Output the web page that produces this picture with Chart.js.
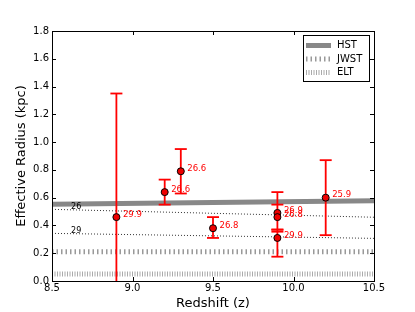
<!DOCTYPE html>
<html>
<head>
<meta charset="utf-8">
<script src="https://cdn.jsdelivr.net/npm/chart.js@4.4.0/dist/chart.umd.min.js"></script>
<style>
html,body{margin:0;padding:0;background:#fff;}
#wrap{width:415px;height:312px;}
</style>
</head>
<body>
<div id="wrap"><canvas id="chart"></canvas></div>
<script>
// ─── Galaxies: redshift, effective radius, error bar ends, magnitude label ───
const zVals   =[8.9 ,9.2 ,9.3 ,9.5 ,9.9 ,9.9  ,9.9  ,10.2];
const reVals  =[0.46,0.64,0.79,0.38,0.49,0.46 ,0.31 ,0.60];
const errHi   =[1.35,0.73,0.95,0.46,0.55,0.64 ,0.37 ,0.87];
const errLo   =[-0.3,0.55,0.63,0.31,0.37,0.355,0.175,0.33];
const magLbls =['29.9','26.6','26.6','26.8','26.9','26.8','29.9','25.9'];

// ─── Resolution limits (value at z=8.5 and z=10.5) ───
const zRange  =[8.5,10.5];
const hstRe   =[0.552,0.578];
const jwstRe  =[0.21,0.21];
const eltRe   =[0.05,0.05];
const mag26Re =[0.516,0.459];
const mag29Re =[0.343,0.307];
const magLineLbls=['26','29'];
const magLineLblZ=8.65;

// ─── Axes ───
const xMin=8.5, xMax=10.5, xStep=0.5;
const yMin=0,   yMax=1.8,  yStep=0.2;

Chart.defaults.font.family="'DejaVu Sans', sans-serif";
Chart.defaults.color='#000';

const seg=(vals)=>zRange.map((z,i)=>({x:z,y:vals[i]}));
const errData=[];
zVals.forEach((z,i)=>{errData.push({x:z,y:errLo[i]},{x:z,y:errHi[i]},{x:z,y:null});});

// ─── Plugins ───
const frameTicks={
    id:'frameTicks',
    afterDatasetsDraw(chart){
        const {ctx,chartArea:a,scales:{x,y}}=chart;
        ctx.save();
        ctx.strokeStyle='#000';ctx.lineWidth=1;
        ctx.beginPath();
        x.ticks.forEach(t=>{
            const p=Math.round(x.getPixelForValue(t.value))+0.5;
            ctx.moveTo(p,a.bottom);ctx.lineTo(p,a.bottom-4);
            ctx.moveTo(p,a.top);ctx.lineTo(p,a.top+4);
        });
        y.ticks.forEach(t=>{
            const p=Math.round(y.getPixelForValue(t.value))+0.5;
            ctx.moveTo(a.left,p);ctx.lineTo(a.left+4,p);
            ctx.moveTo(a.right,p);ctx.lineTo(a.right-4,p);
        });
        ctx.stroke();
        ctx.strokeRect(a.left+0.5,a.top+0.5,a.right-a.left,a.bottom-a.top);
        ctx.restore();
    }
};

const textLabels={
    id:'textLabels',
    afterDatasetsDraw(chart){
        const {ctx,scales:{x,y}}=chart;
        ctx.save();
        ctx.font="8.5px 'DejaVu Sans', sans-serif";
        // magnitude next to each galaxy
        ctx.fillStyle='#ff0000';ctx.textAlign='left';ctx.textBaseline='middle';
        chart.getDatasetMeta(0).data.forEach((pt,i)=>{
            ctx.fillText(magLbls[i],pt.x+6.5,pt.y-2.5);
        });
        // limiting-magnitude line names
        ctx.font="8px 'DejaVu Sans', sans-serif";
        ctx.fillStyle='#000';ctx.textAlign='center';ctx.textBaseline='alphabetic';
        [mag26Re,mag29Re].forEach((vals,i)=>{
            const f=(magLineLblZ-zRange[0])/(zRange[1]-zRange[0]);
            const v=vals[0]+(vals[1]-vals[0])*f;
            ctx.fillText(magLineLbls[i],x.getPixelForValue(magLineLblZ),y.getPixelForValue(v)-1);
        });
        ctx.restore();
    }
};

const boxLegend={
    id:'boxLegend',
    afterDraw(chart){
        const {ctx,chartArea:a}=chart;
        const items=chart.data.datasets.filter(d=>d.inLegend);
        const bx=a.right-71, by=a.top+4, bw=66, bh=46;
        ctx.save();
        ctx.fillStyle='#fff';ctx.fillRect(bx,by,bw,bh);
        ctx.strokeStyle='#000';ctx.lineWidth=1;
        ctx.strokeRect(bx+0.5,by+0.5,bw,bh);
        ctx.font="10px 'DejaVu Sans', sans-serif";
        ctx.textBaseline='middle';ctx.textAlign='left';
        items.forEach((d,i)=>{
            const ly=by+10.5+i*13.5;
            ctx.strokeStyle=d.borderColor;ctx.lineWidth=d.borderWidth;
            ctx.setLineDash(d.borderDash||[]);
            ctx.beginPath();ctx.moveTo(bx+3,ly);ctx.lineTo(bx+28,ly);ctx.stroke();
            ctx.setLineDash([]);
            ctx.fillStyle='#000';
            ctx.fillText(d.label,bx+34,ly);
        });
        ctx.restore();
    }
};

const lineDs=(label,vals,color,width,dash,inLegend)=>({
    label,data:seg(vals),showLine:true,borderColor:color,borderWidth:width,
    borderDash:dash,borderCapStyle:'butt',pointRadius:0,pointHoverRadius:0,inLegend
});

new Chart(document.getElementById('chart').getContext('2d'),{
    type:'scatter',
    data:{datasets:[
        {label:'Galaxies',data:zVals.map((z,i)=>({x:z,y:reVals[i]})),
            backgroundColor:'#ee0000',borderColor:'#000',borderWidth:1,pointRadius:3.5,pointHoverRadius:3.5},
        {label:'err',data:errData,showLine:true,spanGaps:false,borderColor:'#ff0000',borderWidth:1.8,
            pointStyle:'line',pointRadius:6,pointHoverRadius:6,pointBorderColor:'#ff0000',pointBorderWidth:1.8,clip:0},
        lineDs('26',mag26Re,'#333',1,[1,2],false),
        lineDs('29',mag29Re,'#333',1,[1,2],false),
        lineDs('HST',hstRe,'#888',5,[],true),
        lineDs('JWST',jwstRe,'#999',5,[1.5,3],true),
        lineDs('ELT',eltRe,'#aaa',5,[1,1.5],true),
    ]},
    options:{
        responsive:true,maintainAspectRatio:false,animation:false,
        layout:{padding:{left:0,top:31,right:41,bottom:0}},
        plugins:{legend:{display:false},tooltip:{enabled:false}},
        scales:{
            x:{type:'linear',min:xMin,max:xMax,
                grid:{display:false,drawTicks:false},border:{display:false},
                ticks:{stepSize:xStep,padding:1,font:{size:10},color:'#000',callback:v=>v.toFixed(1),maxRotation:0},
                title:{display:true,text:'Redshift (z)',font:{size:13,lineHeight:1.2},color:'#000',padding:{top:0,bottom:1}},
                afterFit:s=>{s.height=31;}},
            y:{min:yMin,max:yMax,
                grid:{display:false,drawTicks:false},border:{display:false},
                ticks:{stepSize:yStep,padding:3,font:{size:10},color:'#000',callback:v=>v.toFixed(1)},
                title:{display:true,text:'Effective Radius (kpc)',font:{size:13,lineHeight:1.2},color:'#000',padding:{top:14,bottom:0}},
                afterFit:s=>{s.width=52;}}
        }
    },
    plugins:[frameTicks,textLabels,boxLegend]
});
</script>
</body>
</html>
